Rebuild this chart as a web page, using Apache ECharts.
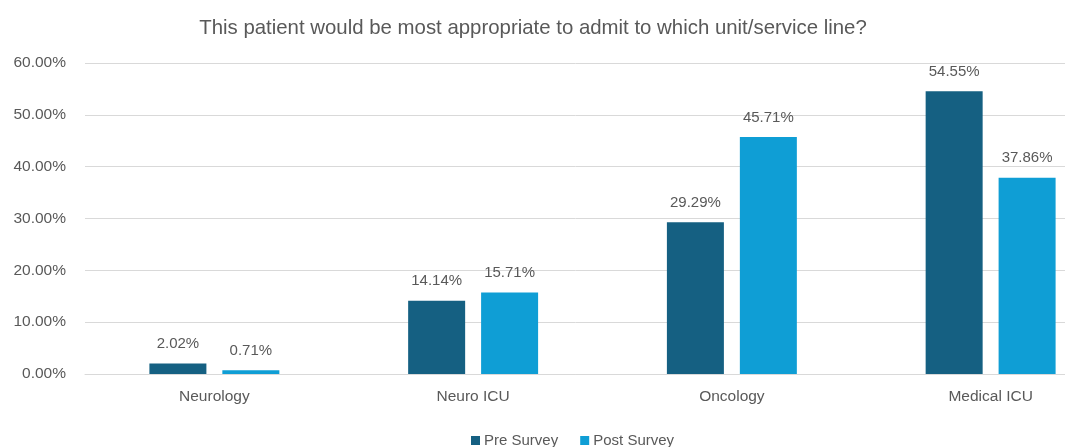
<!DOCTYPE html>
<html>
<head>
<meta charset="utf-8">
<script src="https://cdn.jsdelivr.net/npm/echarts@6/dist/echarts.min.js"></script>
<style>
  html, body { margin: 0; padding: 0; background: #ffffff; }
  #chart { width: 1065px; height: 447px; }
</style>
</head>
<body>
<div id="chart"></div>
<script>
// Survey responses: preferred admitting unit, before and after
const categories = ['Neurology', 'Neuro ICU', 'Oncology', 'Medical ICU'];
const preSurvey = [2.02, 14.14, 29.29, 54.55];
const postSurvey = [0.71, 15.71, 45.71, 37.86];
const seriesNames = ['Pre Survey', 'Post Survey'];
const titleText = 'This patient would be most appropriate to admit to which unit/service line?';

const textColor = '#595959';
const fontFamily = '"Liberation Sans", Arial, sans-serif';

const chart = echarts.init(document.getElementById('chart'), null, { renderer: 'canvas' });

const pct = v => v.toFixed(2) + '%';

chart.setOption({
  animation: false,
  backgroundColor: '#ffffff',
  textStyle: { fontFamily: fontFamily },
  title: {
    text: titleText,
    left: 528,
    top: 13,
    textAlign: 'center',
    textStyle: { color: textColor, fontSize: 20.4, fontWeight: 'normal', fontFamily: fontFamily }
  },
  legend: {
    data: seriesNames,
    left: 466,
    top: 428,
    itemWidth: 9,
    itemHeight: 9,
    itemGap: 22,
    icon: 'rect',
    textStyle: { color: textColor, fontSize: 15, fontFamily: fontFamily, padding: [0, 0, 0, -1] }
  },
  // The plot area runs past the right edge of the canvas, so the last
  // category is cut by the frame.
  grid: { left: 85, width: 1035, top: 63, bottom: 73, containLabel: false, outerBoundsMode: 'none' },
  xAxis: {
    type: 'category',
    data: categories,
    axisTick: { show: false },
    axisLine: { lineStyle: { color: '#d9d9d9' } },
    axisLabel: { color: textColor, fontSize: 15.5, margin: 15, fontFamily: fontFamily }
  },
  yAxis: {
    type: 'value',
    min: 0,
    max: 60,
    interval: 10,
    axisLine: { show: false },
    axisTick: { show: false },
    splitLine: { lineStyle: { color: '#d9d9d9', width: 1 } },
    axisLabel: { color: textColor, fontSize: 15.5, margin: 19, formatter: v => pct(v), fontFamily: fontFamily }
  },
  series: [
    {
      name: seriesNames[0],
      type: 'bar',
      data: preSurvey,
      barWidth: 57,
      barGap: '28%',
      itemStyle: { color: '#156082' },
      label: { show: true, position: 'top', distance: 12, color: textColor, fontSize: 15, formatter: p => pct(p.value), fontFamily: fontFamily }
    },
    {
      name: seriesNames[1],
      type: 'bar',
      data: postSurvey,
      barWidth: 57,
      itemStyle: { color: '#0F9ED5' },
      label: { show: true, position: 'top', distance: 12, color: textColor, fontSize: 15, formatter: p => pct(p.value), fontFamily: fontFamily }
    }
  ]
});
</script>
</body>
</html>
